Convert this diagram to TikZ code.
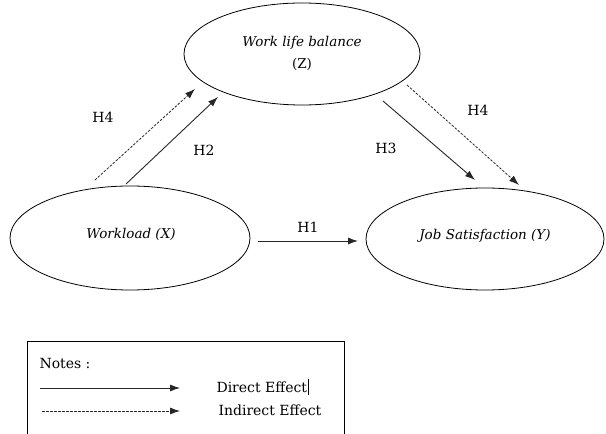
\documentclass[tikz,border=0pt]{standalone}
\usepackage{fontspec}
\setmainfont{DejaVu Serif}
\usetikzlibrary{shapes.geometric,arrows.meta}
\begin{document}
\begin{tikzpicture}[x=1pt,y=1pt,
  var/.style={draw=black,line width=0.8pt,ellipse,inner sep=0pt},
  lbl/.style={font=\fontsize{14}{16}\selectfont},
  vlbl/.style={font=\fontsize{13.5}{22}\selectfont\itshape},
  direct/.style={draw=black!85,line width=0.9pt,-{Latex[length=10pt,width=7pt]}},
  indirect/.style={draw=black!85,line width=0.8pt,dash pattern=on 2.5pt off 1.5pt,-{Latex[length=10pt,width=7pt]}}]
\useasboundingbox (0,0) rectangle (606,434);
% ellipses
\node[var,minimum width=236pt,minimum height=102pt] (Z) at (302,380) {};
\node[vlbl,align=center] (Zt) at (302,381) {Work life balance\\\upshape(Z)};
\node[var,minimum width=240pt,minimum height=104pt] (X) at (130,196) {};
\node[vlbl] (Xt) at (131,200) {Workload (X)};
\node[var,minimum width=238pt,minimum height=102pt] (Y) at (485,195) {};
\node[vlbl] (Yt) at (485,198) {Job Satisfaction (Y)};
% arrow endpoints
\coordinate (h4as) at (95,254);
\coordinate (h4ae) at (195,345);
\coordinate (h2s) at (126,250);
\coordinate (h2e) at (218,337);
\coordinate (h3s) at (383,333);
\coordinate (h3e) at (475,254);
\coordinate (h4bs) at (407,349);
\coordinate (h4be) at (519,249);
\coordinate (h1s) at (258,193);
\coordinate (h1e) at (358,193);
\draw[indirect] (h4as) -- (h4ae);
\draw[direct] (h2s) -- (h2e);
\draw[direct] (h3s) -- (h3e);
\draw[indirect] (h4bs) -- (h4be);
\draw[direct] (h1s) -- (h1e);
% labels
\node[lbl] (L4a) at (103,317) {H4};
\node[lbl] (L2) at (204,284) {H2};
\node[lbl] (L3) at (386,286) {H3};
\node[lbl] (L4b) at (478,324) {H4};
\node[lbl] (L1) at (308,207) {H1};
% legend
\draw[line width=0.7pt] (27,0) -- (27,93) -- (344,93) -- (344,0);
\node[lbl,anchor=west] (notes) at (36,71) {Notes :};
\coordinate (d1) at (40,46);
\coordinate (d2) at (180,46);
\draw[direct,line width=0.8pt] (d1) -- (d2);
\node[lbl,anchor=west] (dtxt) at (213,47) {Direct Effect};
\draw[line width=0.7pt] (dtxt.east) ++(-2pt,-8pt) coordinate (c1) -- ++(0,16pt) coordinate (c2);
\coordinate (i1) at (42,23);
\coordinate (i2) at (180,23);
\draw[indirect] (i1) -- (i2);
\node[lbl,anchor=west] (itxt) at (215,24) {Indirect Effect};
\end{tikzpicture}
\end{document}
